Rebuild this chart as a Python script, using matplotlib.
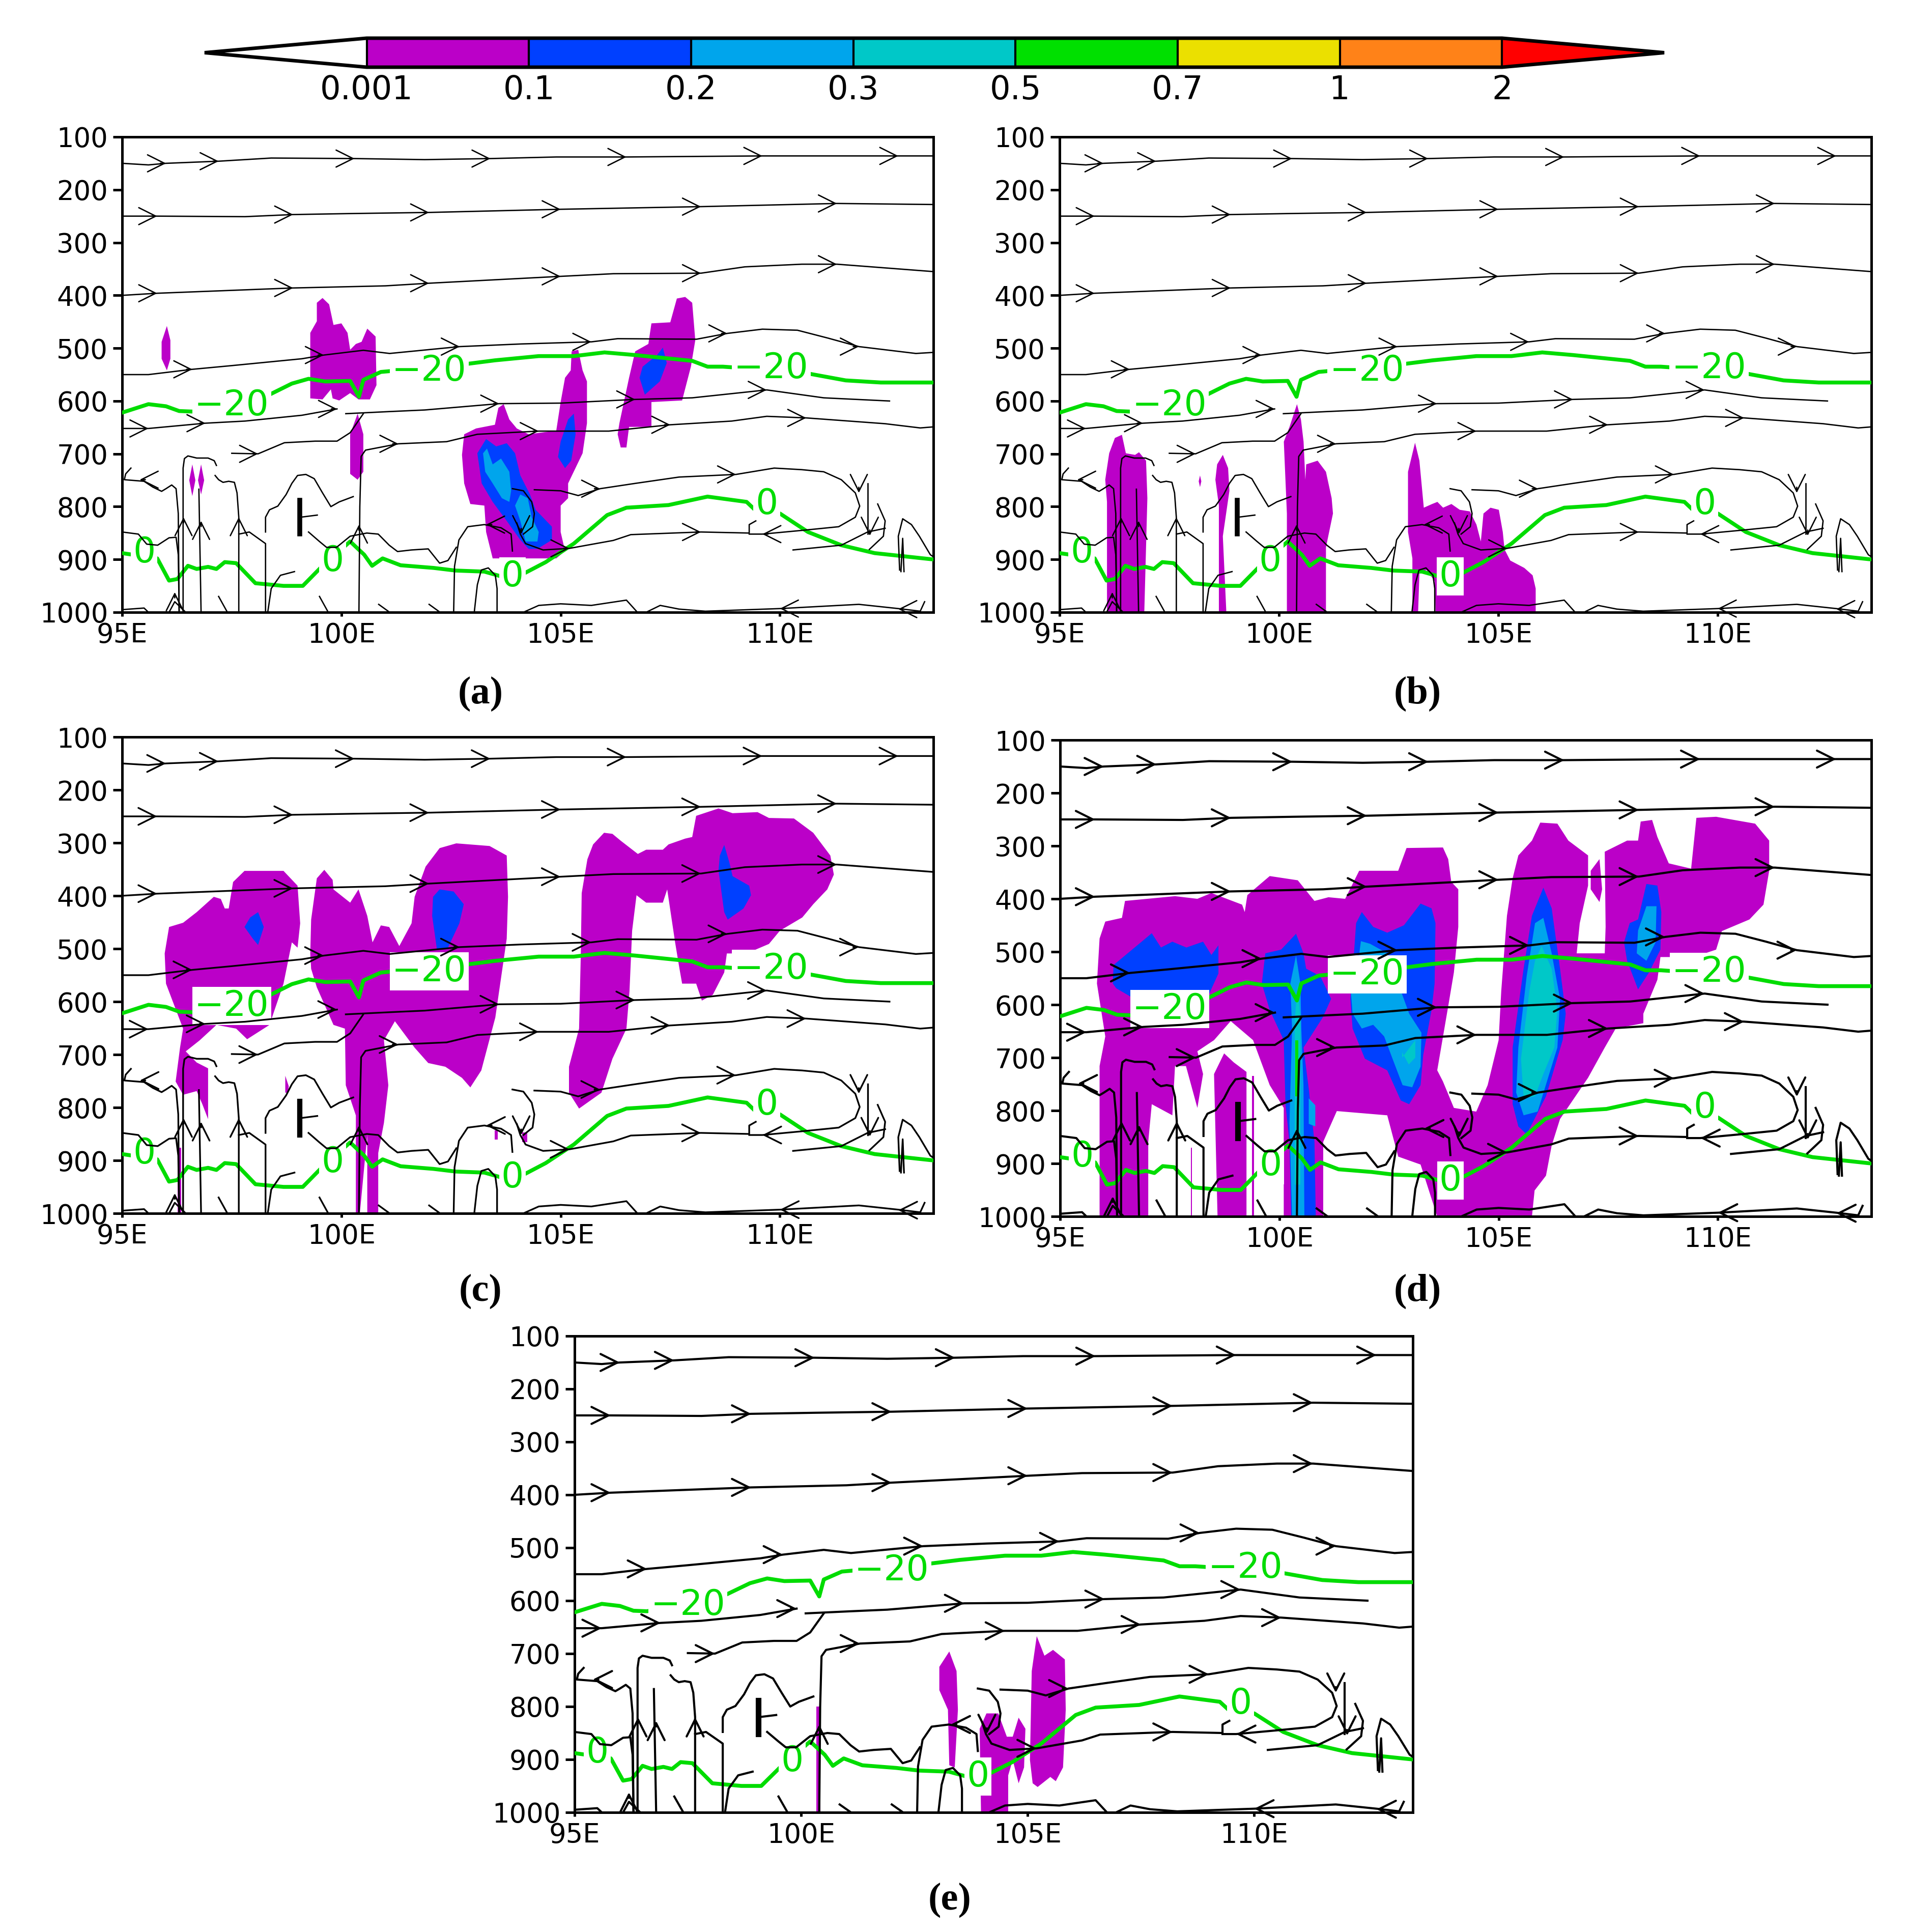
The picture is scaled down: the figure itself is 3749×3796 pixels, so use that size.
#!/usr/bin/python
import numpy as np
import matplotlib
matplotlib.use("Agg")
import matplotlib.pyplot as plt
from matplotlib.colors import BoundaryNorm, ListedColormap
from matplotlib.cm import ScalarMappable

W, H = 3749, 3796

# colour bar
LEVELS = [0.001, 0.1, 0.2, 0.3, 0.5, 0.7, 1, 2]
LEVEL_LABELS = ["0.001", "0.1", "0.2", "0.3", "0.5", "0.7", "1", "2"]
COLORS = ["#BB00C8", "#0040FF", "#00A5EC", "#00C8C8", "#00E000", "#EBE000", "#FF8218"]
PURPLE, BLUE, LIGHT, TEAL, GREEN = COLORS[:5]
LINE_GREEN = "#00DC00"

YTICKS = [100, 200, 300, 400, 500, 600, 700, 800, 900, 1000]
XTICKS = [95, 100, 105, 110]
XLABELS = ["95E", "100E", "105E", "110E"]

# temperature contours (same in every panel)
T20_LON = [95, 95.6, 96, 96.3, 96.6, 98.36, 98.87, 99.25, 99.63, 100.2, 100.4, 100.5, 100.9, 102.75, 103.5, 104.5, 105.3, 106, 106.7, 108, 108.35, 108.7, 110.45, 111.5, 112.3, 113.5]
T20_P = [622, 606, 610, 619, 620, 588, 567, 558, 563, 562, 592, 560, 545, 531, 523, 515, 515, 508, 513, 524, 535, 535, 545, 561, 565, 565]
T0_LON = [95, 95.24, 95.8, 96.07, 96.26, 96.5, 96.7, 96.96, 97.15, 97.34, 97.6, 98.04, 98.68, 99.12, 99.57, 100.2, 100.52, 100.7, 100.94, 101.35, 102.1, 102.6, 103.26, 103.64, 104.2, 104.66, 105.3, 106.06, 106.5, 107.46, 108.35, 109.24, 109.43, 110, 110.64, 111.4, 112.16, 113.5]
T0_P = [888, 891, 898, 940, 937, 912, 918, 914, 918, 905, 907, 945, 950, 950, 912, 866, 891, 912, 898, 911, 916, 921, 923, 932, 925, 905, 870, 816, 802, 797, 781, 791, 806, 813, 848, 873, 888, 900]
T20_LABELS = [(97.5, 608), (102.0, 543), (109.8, 538)]
T0_LABELS = [(95.5, 887), (99.8, 903), (103.9, 932), (109.7, 795)]

# streamlines (same in every panel)
S150 = ([95, 95.6, 96, 97.2, 98.4, 100.3, 101.9, 103.4, 104.9, 106.5, 108, 109.6, 111.1, 113.5], [150, 153, 150, 146, 140, 141, 143, 141, 138, 138, 137, 136, 136, 136])
S250 = ([95, 95.8, 97.8, 98.9, 100.3, 102, 105, 108.2, 111.3, 113.5], [250, 250, 251, 247, 245, 243, 237, 232, 226, 228])
S400 = ([95, 95.8, 98.9, 101, 102, 105, 106.2, 108.2, 109.2, 110.5, 111.3, 113.5], [400, 396, 386, 382, 377, 364, 359, 358, 346, 341, 341, 355])
S550 = ([95, 95.6, 96.6, 97.5, 99.1, 99.6, 100.5, 101.1, 102.7, 104.1, 105.7, 106.3, 108.1, 108.8, 109.6, 110.4, 111.1, 111.8, 113.1, 113.5], [550, 550, 540, 533, 520, 513, 504, 510, 497, 492, 488, 482, 483, 472, 464, 466, 481, 497, 510, 508])
S600 = ([100.1, 101.1, 101.9, 103.6, 105, 106.7, 108, 109.7, 111, 112.5], [624, 620, 617, 605, 604, 597, 594, 579, 594, 600])
S650 = ([95, 95.6, 96.9, 97.8, 99.1, 99.9], [652, 652, 642, 638, 627, 615])
S700 = ([97.5, 98.1, 98.7, 99.4, 99.9, 100.2, 100.5], [699, 700, 679, 676, 676, 660, 624])
S660 = ([100.4, 100.42, 100.45, 100.55, 101.3, 102.4, 103.1, 104.5, 106.1, 107.5, 108.9, 109.7, 110.6, 112.4, 113.2, 113.5], [1000, 800, 705, 693, 681, 677, 663, 657, 657, 645, 638, 629, 632, 643, 651, 649])
S770 = ([104.4, 105, 105.4, 105.9, 106.7, 107.7, 109, 109.87, 110.5, 111, 111.4, 111.72, 111.82, 111.72, 111.34, 110.5, 109.6, 109.3], [768, 770, 779, 766, 756, 744, 739, 727, 730, 734, 749, 774, 799, 820, 838, 845, 852, 852])
S850 = ([104, 104.08, 104.2, 104.6, 105.2, 106.2, 106.6, 108.2, 109.3, 109.3, 109.45], [831, 852, 870, 882, 879, 864, 853, 848, 850, 834, 827])
SARC = ([103.9, 104.15, 104.34, 104.4, 104.36, 104.15], [766, 770, 791, 813, 838, 852])
SE1 = ([110.3, 111.4, 112, 112.4], [882, 873, 848, 841])
SE2 = ([112, 112, 112], [756, 784, 852])
SE3 = ([112.23, 112.4, 112.36, 112.04], [795, 827, 856, 881])
SE4 = ([112.73, 112.7, 112.8, 113, 113.18, 113.43, 113.5], [920, 856, 823, 834, 856, 891, 895])
SE5 = ([112.83, 112.8, 112.76], [923, 860, 923])
SW1 = ([95.2, 95.08, 95.05, 95.5, 95.7, 95.9, 96, 96.13, 96.23, 96.28, 96.3], [727, 738, 749, 752, 763, 771, 766, 759, 766, 813, 1000])
SW2 = ([96.39, 96.39, 96.42, 96.5, 96.7, 96.96, 97.1, 97.15], [1000, 727, 709, 704, 708, 708, 713, 722])
SW3 = ([96.8, 96.75], [1000, 767])
SW4 = ([97.12, 97.2, 97.3, 97.43, 97.56, 97.62, 97.66, 97.66], [741, 749, 754, 752, 754, 774, 820, 1000])
SW5 = ([98.27, 98.27, 98.36, 98.55, 98.74, 98.87, 99, 99.19, 99.38, 99.57, 99.76, 99.95, 100.27], [848, 820, 806, 799, 777, 756, 741, 739, 747, 774, 800, 791, 781])
SW6 = ([98.27, 98.27, 97.9, 97.66], [1000, 870, 848, 852])
SW7 = ([95, 95.37, 95.56, 95.81, 96.07, 96.23, 96.28, 96.3], [848, 852, 871, 873, 859, 858, 891, 1000])
SM1 = ([99.25, 99.5, 99.66, 99.89, 100.2, 100.58, 100.84, 101.09, 101.28, 101.6, 101.98, 102.24, 102.43, 102.62], [848, 866, 877, 877, 856, 850, 852, 873, 885, 882, 880, 907, 902, 877])
SM2 = ([102.56, 102.58, 102.68, 102.88, 103.26, 103.64, 103.87, 103.9], [1000, 913, 863, 838, 834, 840, 852, 884])
SM3 = ([103.03, 103.1, 103.19, 103.35, 103.51, 103.55, 103.55], [1000, 948, 920, 916, 930, 955, 1000])
SM4 = ([98.32, 98.4, 98.61, 98.93], [1000, 955, 930, 923])
SB1 = ([104.15, 104.5, 105, 105.7, 106.5, 106.75], [1000, 987, 984, 987, 977, 1000])
SB2 = ([106.95, 107.27, 107.7, 108.3, 110, 111.8, 112.7, 113.2, 113.3], [1000, 987, 994, 998, 993, 985, 993, 998, 980])
SB3 = ([96.07, 96.2, 96.45], [1000, 980, 1000])
SB4 = ([97.2, 97.4], [970, 1000])
SB5 = ([99.5, 99.7], [970, 1000])
SB6 = ([100.85, 101.1], [985, 1000])
SB7 = ([102.0, 102.25], [985, 1000])
SB8 = ([95, 95.5, 95.6], [995, 992, 1000])
SL1 = ([99.07, 99.45], [820, 816])
STREAMS = [S150, S250, S400, S550, S600, S650, S700, S660, S770, S850, SARC, SE1, SE2, SE3, SE4, SE5,
           SW1, SW2, SW3, SW4, SW5, SW6, SW7, SM1, SM2, SM3, SM4, SB1, SB2, SB3, SB4, SB5, SB6, SB7, SB8, SL1]
BLOB_LON = [99.05, 99.05]
BLOB_P = [788, 852]

# arrow heads: lon, pressure, heading in degrees (0 east, 90 up, 180 west)
ARROWS_E = [(96, 150), (97.2, 146), (100.3, 141), (103.4, 141), (106.5, 138), (109.6, 136), (112.7, 136),
            (95.8, 250), (98.9, 247), (102, 243), (105, 237), (108.2, 232), (111.3, 226),
            (95.8, 396), (98.9, 386), (102, 377), (105, 364), (108.2, 358), (111.3, 341),
            (96.6, 540), (99.6, 513), (102.7, 497), (105.7, 488), (108.8, 472), (111.8, 497),
            (99.9, 615), (103.6, 605), (106.7, 597), (109.7, 579),
            (95.6, 652), (96.9, 642),
            (98.1, 700), (101.3, 681), (104.5, 657), (107.5, 645), (110.6, 632),
            (105.9, 766), (109, 739), (105.2, 879), (108.2, 848)]
ARROWS_N = [(96.4, 820), (96.8, 827), (97.66, 820), (100.4, 834), (96.2, 962)]
ARROWS_W = [(95.4, 749), (109.6, 852), (103.3, 834), (110, 993), (112.7, 994)]
ARROWS_S = [(111.8, 774), (104.1, 852), (112.05, 855)]

# precipitation outlines, panel a
A_1 = ([96.02, 96.1, 96.1, 96.02, 95.9, 95.9], [458, 485, 520, 542, 520, 488])
A_2 = ([99.29, 99.29, 99.44, 99.44, 99.57, 99.72, 99.82, 100.0, 100.14, 100.2, 100.33, 100.46, 100.59, 100.78, 100.8, 100.65, 100.39, 100.2, 99.95, 99.8, 99.76, 99.57],
       [595, 471, 449, 414, 405, 417, 456, 453, 471, 503, 492, 488, 463, 478, 570, 597, 597, 585, 599, 595, 578, 597])
A_3 = ([100.37, 100.5, 100.5, 100.37, 100.2, 100.2], [624, 663, 734, 749, 738, 663])
A_4 = ([96.6, 96.67, 96.6, 96.53], [720, 750, 780, 750])
A_5 = ([96.8, 96.87, 96.8, 96.73], [720, 750, 777, 750])
A_6 = ([102.75, 102.8, 103.07, 103.5, 103.58, 103.7, 103.83, 104, 104.27, 104.9, 105, 105.1, 105.23, 105.25, 105.4, 105.5, 105.6, 105.6, 105.5, 105.17, 105.17, 105, 105, 105.1, 104.9, 103.45, 103.3, 103.26, 102.94, 102.8],
       [702, 663, 652, 645, 613, 606, 635, 652, 663, 656, 602, 556, 542, 506, 503, 542, 563, 642, 699, 756, 784, 798, 848, 884, 898, 898, 848, 798, 795, 756])
A_7 = ([106.34, 106.56, 106.7, 107, 107.07, 107.5, 107.65, 107.84, 108, 108.07, 107.97, 107.77, 107.07, 107.07, 106.56, 106.5, 106.37, 106.3],
       [642, 556, 506, 492, 453, 451, 406, 403, 414, 485, 535, 599, 602, 649, 649, 688, 688, 663])
A_B1 = ([103.1, 103.3, 103.53, 103.77, 103.96, 104.08, 104.3, 104.43, 104.8, 104.8, 104.47, 104.27, 104.08, 103.77, 103.45, 103.2],
        [699, 672, 686, 680, 699, 741, 777, 806, 838, 863, 880, 880, 863, 827, 791, 756])
A_B2 = ([105.3, 105.34, 105.24, 105.1, 104.94, 105, 105.17], [624, 663, 713, 727, 706, 677, 635])
A_B3 = ([107.33, 107.42, 107.26, 106.92, 106.8, 106.87, 107.2], [499, 528, 563, 588, 556, 535, 513])
A_L1 = ([103.23, 103.32, 103.45, 103.64, 103.83, 103.87, 103.83, 103.66, 103.45, 103.28], [699, 690, 720, 709, 734, 770, 791, 784, 756, 734])
A_L2 = ([103.96, 104.08, 104.25, 104.34, 104.5, 104.47, 104.2, 104.08], [798, 777, 784, 820, 848, 866, 866, 827])

# panel b
B_1 = ([96.08, 96.08, 96.04, 96.13, 96.26, 96.42, 96.51, 96.72, 96.81, 96.97, 97, 96.93], [1000, 791, 749, 699, 670, 664, 699, 702, 697, 713, 784, 1000])
B_2 = ([98.2, 98.23, 98.2, 98.17], [741, 752, 763, 752])
B_3 = ([98.63, 98.63, 98.55, 98.59, 98.72, 98.84, 98.87, 98.72, 98.8], [1000, 798, 749, 720, 702, 727, 770, 856, 1000])
B_4 = ([100.18, 100.18, 100.11, 100.24, 100.41, 100.5, 100.56, 100.6, 100.62, 100.88, 101.07, 101.2, 101.23, 101.07, 101.07],
       [1000, 813, 677, 649, 606, 635, 677, 749, 720, 713, 734, 784, 813, 877, 1000])
B_5 = ([103.04, 103.04, 102.94, 102.94, 103.1, 103.2, 103.3, 103.49, 103.61, 103.74, 103.93, 104.12, 104.35, 104.5, 104.6, 104.66, 104.82, 105.01, 105.1, 105.14, 105.27, 105.59, 105.78, 105.85, 105.85, 103.57, 103.55, 103.36, 103.2, 103.17],
       [1000, 898, 848, 734, 679, 713, 802, 795, 791, 802, 795, 806, 809, 834, 866, 813, 802, 806, 848, 881, 902, 916, 930, 955, 1000, 1000, 941, 920, 927, 1000])

# panel c
C_1 = ([95.97, 96.07, 96.39, 96.7, 97.09, 97.25, 97.34, 97.43, 97.53, 97.79, 98.68, 99, 99.06, 99, 98.87, 98.68, 98.36, 97.85, 97.6, 97.15, 96.77, 96.45, 96.7, 96.96, 96.96, 96.83, 96.7, 96.39, 96.22, 96.32, 96.39, 96],
       [509, 459, 451, 431, 402, 406, 424, 424, 374, 353, 353, 381, 452, 498, 488, 566, 644, 671, 651, 644, 673, 694, 715, 726, 822, 794, 769, 776, 751, 687, 651, 566])
C_2 = ([99.29, 99.31, 99.44, 99.61, 99.8, 99.82, 100.2, 100.39, 100.59, 100.71, 100.9, 101.09, 101.32, 101.6, 101.67, 101.92, 102.24, 102.62, 103.38, 103.77, 103.8, 103.77, 103.51, 103.19, 102.94, 102.75, 102.37, 101.98, 101.67, 101.22, 100.97, 101.07, 100.97, 100.84, 100.84, 100.59, 100.59, 100.42, 100.33, 100.33, 100.1, 100.08, 99.82, 99.44, 99.31],
       [509, 445, 367, 351, 370, 388, 413, 388, 438, 488, 456, 459, 495, 452, 402, 345, 310, 301, 306, 324, 402, 481, 630, 730, 762, 744, 723, 716, 687, 637, 673, 758, 829, 886, 1000, 1000, 851, 1000, 1000, 815, 758, 651, 644, 573, 538])
C_3 = ([105.48, 105.61, 105.74, 105.99, 106.18, 106.37, 106.76, 106.95, 107.33, 107.46, 107.84, 108, 108.09, 108.6, 108.92, 109.49, 109.75, 110.32, 110.76, 111.15, 111.23, 111.08, 110.76, 110.51, 110, 109.75, 109.24, 108.79, 108.73, 108.47, 108.22, 108.09, 107.77, 107.71, 107.61, 107.43, 107.33, 106.95, 106.73, 106.63, 106.57, 106.5, 106.18, 105.93, 105.42, 105.19, 105.19, 105.42, 105.46],
       [395, 331, 303, 281, 283, 296, 321, 313, 313, 303, 292, 289, 249, 235, 244, 242, 253, 254, 281, 324, 360, 388, 416, 441, 466, 491, 509, 509, 545, 587, 598, 566, 566, 538, 488, 388, 413, 413, 399, 466, 580, 651, 708, 772, 802, 772, 723, 651, 509])
C_4 = ([96.26, 96.35, 96.35, 96.26], [1000, 1000, 876, 876])
C_5 = ([98.72, 98.8, 98.78, 98.72], [740, 760, 772, 772])
C_6 = ([103.5, 103.56, 103.56, 103.5], [843, 843, 861, 861])
C_7 = ([104.12, 104.24, 104.24, 104.12], [847, 847, 865, 865])
C_B1 = ([98.1, 98.23, 98.1, 97.98, 97.79, 97.92], [431, 459, 493, 481, 459, 441])
C_B2 = ([102.24, 102.56, 102.79, 102.69, 102.43, 102.18, 102.07, 102.09], [388, 392, 416, 452, 498, 502, 438, 402])
C_B3 = ([108.73, 108.85, 108.92, 109.3, 109.34, 109.17, 108.81, 108.73, 108.6, 108.63], [304, 338, 363, 381, 399, 424, 445, 431, 352, 324])

# panel d
D_1 = ([95.9, 96.03, 96.41, 96.48, 97.62, 98.13, 98.45, 99.15, 99.21, 99.27, 99.78, 100.42, 100.8, 101.12, 101.5, 101.82, 102.71, 102.9, 103.73, 103.85, 103.92, 104.08, 104.08, 103.98, 103.85, 103.6, 103.73, 103.98, 104.49, 104.75, 105, 105.06, 105.19, 105.32, 105.45, 105.76, 105.95, 106.34, 106.59, 107.04, 107.04, 106.85, 106.78, 107.42, 107.44, 107.42, 107.93, 108.18, 108.24, 108.5, 108.62, 108.88, 109.39, 109.51, 109.96, 110.85, 111.17, 111.17, 111.04, 110.72, 110.09, 109.96, 109.45, 108.69, 108.62, 108.3, 108.3, 107.67, 107.42, 107.04, 106.4, 106.21, 106.08, 105.82, 105.76, 103.6, 103.22, 102.71, 102.46, 101.31, 101, 101, 100.1, 100.1, 99.78, 99.4, 98.89, 98.51, 98.13, 98.26, 98.13, 97.87, 97.62, 97.56, 97.09, 97.01, 97.01, 95.9, 95.9, 96.03, 95.84],
       [475, 443, 436, 404, 395, 400, 389, 411, 425, 393, 357, 365, 404, 397, 400, 347, 347, 304, 303, 325, 368, 382, 453, 539, 603, 724, 745, 795, 802, 752, 667, 574, 432, 361, 318, 290, 256, 258, 290, 318, 375, 446, 503, 503, 453, 311, 290, 290, 254, 251, 283, 333, 343, 247, 245, 258, 290, 347, 411, 439, 461, 496, 510, 510, 553, 617, 635, 645, 681, 738, 816, 866, 923, 951, 1000, 1000, 902, 887, 809, 801, 859, 1000, 1000, 795, 752, 667, 631, 667, 688, 731, 795, 716, 716, 809, 788, 859, 1000, 1000, 716, 660, 560])
D_2 = ([98.59, 98.51, 98.74, 98.96, 99.25, 99.25], [1000, 731, 692, 709, 727, 1000])
D_3 = ([99.38, 99.42, 99.42, 99.38], [1000, 1000, 735, 735])
D_4 = ([97.98, 98.01, 98.01, 97.98], [1000, 1000, 870, 870])
D_5 = ([107.1, 107.3, 107.36, 107.3, 107.1], [347, 325, 382, 406, 382])
D_B1 = ([96.2, 96.22, 96.86, 97.09, 97.3, 97.56, 97.88, 98.26, 98.45, 98.61, 98.61, 98.38, 97.87, 96.86, 96.28], [560, 525, 481, 465, 492, 481, 492, 481, 506, 488, 541, 583, 597, 597, 569])
D_B2 = ([99.6, 99.68, 100.04, 100.38, 100.55, 100.61, 100.93, 101.18, 100.99, 100.55, 100.67, 100.8, 100.83, 100.27, 100.23, 100.14, 100.1, 99.78], [560, 503, 496, 466, 503, 532, 546, 589, 624, 681, 759, 859, 1000, 1000, 859, 788, 667, 610])
D_B3 = ([101.75, 101.88, 102.14, 102.46, 102.84, 103.22, 103.47, 103.56, 103.54, 103.47, 103.28, 103.22, 102.96, 102.77, 102.46, 101.95, 101.67, 101.62, 101.69], [446, 425, 453, 464, 450, 409, 418, 446, 560, 610, 695, 752, 788, 781, 724, 702, 645, 589, 517])
D_B4 = ([106.02, 106.21, 106.4, 106.53, 106.46, 106.08, 105.64, 105.45, 105.32, 105.32, 105.57, 105.76], [379, 418, 532, 617, 667, 773, 845, 830, 788, 681, 532, 432])
D_B5 = ([108.37, 108.62, 108.71, 108.69, 108.43, 108.18, 107.93, 107.86, 107.99, 108.18], [372, 375, 425, 496, 539, 571, 517, 482, 446, 439])
D_L1 = ([100.38, 100.48, 100.5, 100.55, 100.57, 100.29, 100.23, 100.29, 100.25], [507, 560, 645, 752, 1000, 1000, 823, 645, 560])
D_L2 = ([100.67, 100.82, 100.82, 100.67], [777, 790, 830, 825])
D_L3 = ([101.86, 102.07, 102.46, 102.71, 102.96, 103.24, 103.22, 103.03, 102.81, 102.58, 102.39, 102.14, 101.88, 101.67, 101.63, 101.8], [480, 485, 503, 560, 617, 653, 717, 756, 752, 702, 660, 638, 645, 617, 574, 517])
D_L4 = ([106.02, 106.21, 106.4, 106.34, 105.89, 105.57, 105.4, 105.45, 105.64, 105.83], [436, 503, 589, 681, 802, 809, 766, 681, 546, 446])
D_L5 = ([108.37, 108.6, 108.58, 108.37, 108.15, 108.18], [414, 414, 482, 517, 503, 460])
D_T1 = ([100.35, 100.42, 100.48, 100.48, 100.35], [630, 560, 630, 940, 940])
D_T2 = ([102.8, 103.1, 103.1, 102.95, 102.8], [700, 667, 700, 713, 690])
D_T3 = ([105.98, 106.21, 106.34, 106.27, 106.02, 105.83, 105.57, 105.51, 105.7, 105.83], [489, 532, 610, 681, 731, 773, 777, 702, 574, 517])
D_G1 = ([100.36, 100.43, 100.43, 100.36], [667, 667, 773, 773])

# panel e
E_1 = ([103.27, 103.43, 103.46, 103.39, 103.27, 103.24, 103.05, 103.05], [696, 733, 806, 915, 911, 806, 769, 725])
E_2 = ([103.97, 103.94, 104.09, 104.35, 104.54, 104.67, 104.8, 104.95, 104.92, 104.8, 104.67, 104.57, 104.57], [1000, 842, 813, 813, 857, 857, 821, 842, 915, 945, 901, 930, 1000])
E_3 = ([105.11, 105.05, 105.09, 105.2, 105.37, 105.56, 105.82, 105.84, 105.78, 105.62, 105.5, 105.22], [945, 901, 733, 667, 704, 693, 711, 806, 915, 941, 933, 952])
E_4 = ([100.33, 100.43, 100.43, 100.33], [1000, 1000, 800, 800])

PANEL_A = [(A_1, PURPLE), (A_2, PURPLE), (A_3, PURPLE), (A_4, PURPLE), (A_5, PURPLE), (A_6, PURPLE), (A_7, PURPLE),
           (A_B1, BLUE), (A_B2, BLUE), (A_B3, BLUE), (A_L1, LIGHT), (A_L2, LIGHT)]
PANEL_B = [(B_1, PURPLE), (B_2, PURPLE), (B_3, PURPLE), (B_4, PURPLE), (B_5, PURPLE)]
PANEL_C = [(C_1, PURPLE), (C_2, PURPLE), (C_3, PURPLE), (C_4, PURPLE), (C_5, PURPLE), (C_6, PURPLE), (C_7, PURPLE),
           (C_B1, BLUE), (C_B2, BLUE), (C_B3, BLUE)]
PANEL_D = [(D_1, PURPLE), (D_2, PURPLE), (D_3, PURPLE), (D_4, PURPLE), (D_5, PURPLE),
           (D_B1, BLUE), (D_B2, BLUE), (D_B3, BLUE), (D_B4, BLUE), (D_B5, BLUE),
           (D_L1, LIGHT), (D_L2, LIGHT), (D_L3, LIGHT), (D_L4, LIGHT), (D_L5, LIGHT),
           (D_T1, TEAL), (D_T2, TEAL), (D_T3, TEAL), (D_G1, GREEN)]
PANEL_E = [(E_1, PURPLE), (E_2, PURPLE), (E_3, PURPLE), (E_4, PURPLE)]


def add_axes_px(fig, left, top, right, bottom):
    return fig.add_axes([left / W, 1 - bottom / H, (right - left) / W, (bottom - top) / H])


def arrow(ax, lon, p, heading, lw):
    # chevron whose tip sits on the streamline
    ang = np.deg2rad(heading)
    ax.annotate("", xy=(lon, p), xytext=(-8 * np.cos(ang), -8 * np.sin(ang)), textcoords="offset points",
                arrowprops=dict(arrowstyle="->,head_length=24,head_width=12", mutation_scale=1,
                                lw=lw, color="k", shrinkA=0, shrinkB=0), zorder=6)


def draw_panel(fig, box, polys, lw, caption, caption_xy):
    ax = add_axes_px(fig, *box)
    for (lon, p), col in polys:
        ax.fill(lon, p, color=col, lw=0, zorder=1)
    ax.plot(T20_LON, T20_P, color=LINE_GREEN, lw=5.5, zorder=3, solid_joinstyle="round")
    ax.plot(T0_LON, T0_P, color=LINE_GREEN, lw=5.5, zorder=3, solid_joinstyle="round")
    for lon, p in T20_LABELS:
        ax.text(lon, p, "\u221220", color=LINE_GREEN, fontsize=50, ha="center", va="center", zorder=4,
                bbox=dict(fc="white", ec="none", pad=3))
    for lon, p in T0_LABELS:
        ax.text(lon, p, "0", color=LINE_GREEN, fontsize=50, ha="center", va="center", zorder=4,
                bbox=dict(fc="white", ec="none", pad=3))
    for lon, p in STREAMS:
        ax.plot(lon, p, color="k", lw=lw, zorder=5)
    ax.plot(BLOB_LON, BLOB_P, color="k", lw=lw + 5, zorder=5)
    for lon, p in ARROWS_E:
        arrow(ax, lon, p, 0, lw)
    for lon, p in ARROWS_N:
        arrow(ax, lon, p, 90, lw)
    for lon, p in ARROWS_W:
        arrow(ax, lon, p, 180, lw)
    for lon, p in ARROWS_S:
        arrow(ax, lon, p, 270, lw)

    ax.set_xlim(95, 113.5)
    ax.set_ylim(1000, 100)
    ax.set_xticks(XTICKS)
    ax.set_xticklabels(XLABELS)
    ax.set_yticks(YTICKS)
    ax.tick_params(axis="y", length=13, width=3.6, labelsize=38, pad=7)
    ax.tick_params(axis="x", length=6, width=3.6, labelsize=38, pad=8)
    for s in ax.spines.values():
        s.set_linewidth(3.6)
    fig.text(caption_xy[0] / W, 1 - caption_xy[1] / H, caption, fontsize=55, fontweight="bold",
             family="Liberation Serif", ha="center", va="center")
    return ax


fig = plt.figure(figsize=(W / 100, H / 100), dpi=100)

draw_panel(fig, (240, 269, 1834, 1203), PANEL_A, 1.9, "(a)", (944, 1363))
draw_panel(fig, (2082, 269, 3677, 1203), PANEL_B, 1.9, "(b)", (2785, 1363))
draw_panel(fig, (240, 1448, 1834, 2384), PANEL_C, 2.4, "(c)", (944, 2537))
draw_panel(fig, (2083, 1454, 3677, 2390), PANEL_D, 3.0, "(d)", (2785, 2537))
draw_panel(fig, (1129, 2625, 2776, 3561), PANEL_E, 3.0, "(e)", (1866, 3733))

# colour bar with triangular ends, the axes span both tips
cax = add_axes_px(fig, 402, 75, 3270, 132)
cmap = ListedColormap(COLORS)
cmap.set_under("white")
cmap.set_over("#FF0000")
sm = ScalarMappable(norm=BoundaryNorm(LEVELS, cmap.N), cmap=cmap)
cb = fig.colorbar(sm, cax=cax, orientation="horizontal", extend="both", extendfrac=0.1428,
                  spacing="uniform", drawedges=True, ticks=LEVELS)
cb.ax.set_xticklabels(LEVEL_LABELS)
cb.ax.tick_params(length=0, labelsize=46, pad=10)
cb.ax.minorticks_off()
cb.outline.set_linewidth(5)
cb.dividers.set_linewidth(3)
cb.dividers.set_color("k")

fig.savefig("out.png", dpi=100)
